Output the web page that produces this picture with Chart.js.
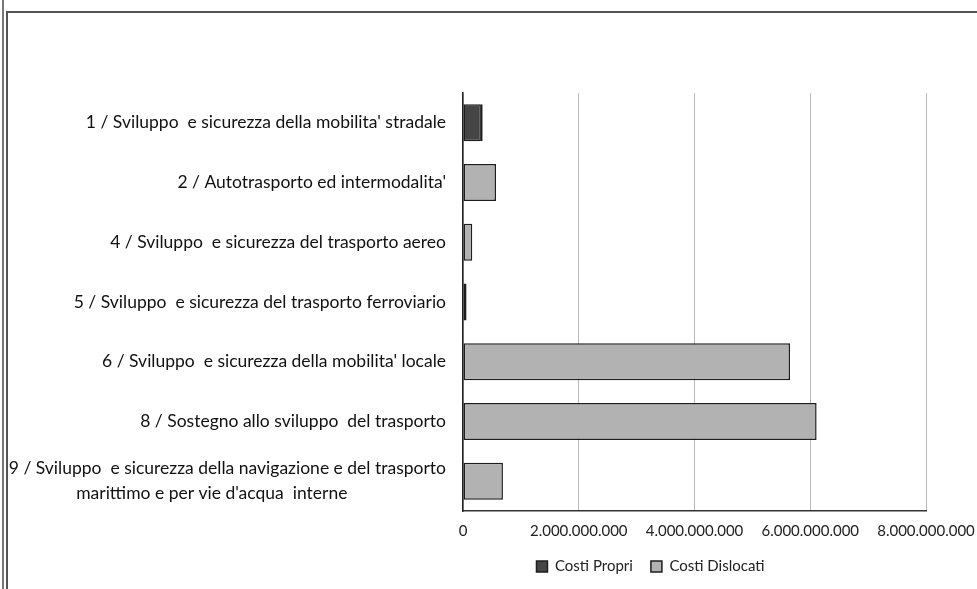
<!DOCTYPE html>
<html>
<head>
<meta charset="utf-8">
<script src="https://cdn.jsdelivr.net/npm/chart.js@4.4.1/dist/chart.umd.min.js"></script>
<style>
  html, body { margin: 0; padding: 0; background: #fff; }
  body { width: 977px; height: 589px; position: relative; overflow: hidden; }
  .outer { position: absolute; left: 2px; top: 0; width: 2px; height: 589px; background: #777; }
  .frame { position: absolute; left: 6px; top: 11px; width: 980px; height: 600px;
           border-left: 2px solid #555; border-top: 2px solid #555; }
  #wrap { position: absolute; left: 0; top: 0; width: 977px; height: 589px; }
</style>
</head>
<body>
<div class="outer"></div>
<div class="frame"></div>
<div id="wrap"><canvas id="chart" width="977" height="589"></canvas></div>
<script>
const categories = [
  "1 / Sviluppo  e sicurezza della mobilita' stradale",
  "2 / Autotrasporto ed intermodalita'",
  "4 / Sviluppo  e sicurezza del trasporto aereo",
  "5 / Sviluppo  e sicurezza del trasporto ferroviario",
  "6 / Sviluppo  e sicurezza della mobilita' locale",
  "8 / Sostegno allo sviluppo  del trasporto",
  ["9 / Sviluppo  e sicurezza della navigazione e del trasporto",
   "marittimo e per vie d'acqua  interne" + " ".repeat(22)]
];
const costiPropri    = [310000000, 10000000, 10000000, 60000000, 10000000, 10000000, 10000000];
const costiDislocati = [30000000, 560000000, 150000000, 5000000, 5640000000, 6100000000, 680000000];
const xTicks = [0, 2000000000, 4000000000, 6000000000, 8000000000];
const xTickLabels = ["0", "2.000.000.000", "4.000.000.000", "6.000.000.000", "8.000.000.000"];

const FONT = "Lato";

// sposta la legenda come nell'originale
const legendShift = {
  id: "legendShift",
  afterLayout(chart) {
    const lg = chart.legend;
    if (!lg) return;
    lg.left += 162;
    lg.right += 162;
    lg.top -= 5;
    lg.bottom -= 5;
  }
};

new Chart(document.getElementById("chart"), {
  type: "bar",
  data: {
    labels: categories,
    datasets: [{
      label: "Costi Propri",
      data: costiPropri,
      backgroundColor: "#454545",
      borderColor: "#1e1e1e",
      borderWidth: 1.5,
      borderSkipped: false,
      barPercentage: 0.62,
      categoryPercentage: 1
    }, {
      label: "Costi Dislocati",
      data: costiDislocati,
      backgroundColor: "#b2b2b2",
      borderColor: "#1e1e1e",
      borderWidth: 1.5,
      borderSkipped: false,
      barPercentage: 0.62,
      categoryPercentage: 1
    }]
  },
  options: {
    indexAxis: "y",
    responsive: false,
    animation: false,
    devicePixelRatio: 1,
    layout: { padding: { top: 93, left: 0, right: 0, bottom: 0 } },
    scales: {
      x: {
        stacked: true,
        min: 0,
        max: 8000000000,
        afterBuildTicks(axis) { axis.ticks = xTicks.map(v => ({ value: v })); },
        afterFit(axis) { axis.height = 35; axis.paddingRight = 51; },
        grid: { color: "#b8b8b8", lineWidth: 1, drawTicks: false },
        border: { display: true, color: "#333", width: 1.5 },
        ticks: {
          padding: 11,
          color: "#222",
          font: { family: FONT, size: 15 },
          callback: (v, i) => xTickLabels[i]
        }
      },
      y: {
        stacked: true,
        afterFit(axis) { axis.width = 463; },
        grid: { display: false, drawTicks: false },
        border: { display: true, color: "#222", width: 1.5 },
        ticks: {
          padding: 17,
          color: "#111",
          font: { family: FONT, size: 17.5, lineHeight: 1.45 }
        }
      }
    },
    plugins: {
      legend: {
        position: "bottom",
        labels: {
          boxWidth: 11,
          boxHeight: 11,
          padding: 18,
          color: "#222",
          font: { family: FONT, size: 15 }
        }
      },
      tooltip: { enabled: false }
    }
  },
  plugins: [legendShift]
});
</script>
</body>
</html>
